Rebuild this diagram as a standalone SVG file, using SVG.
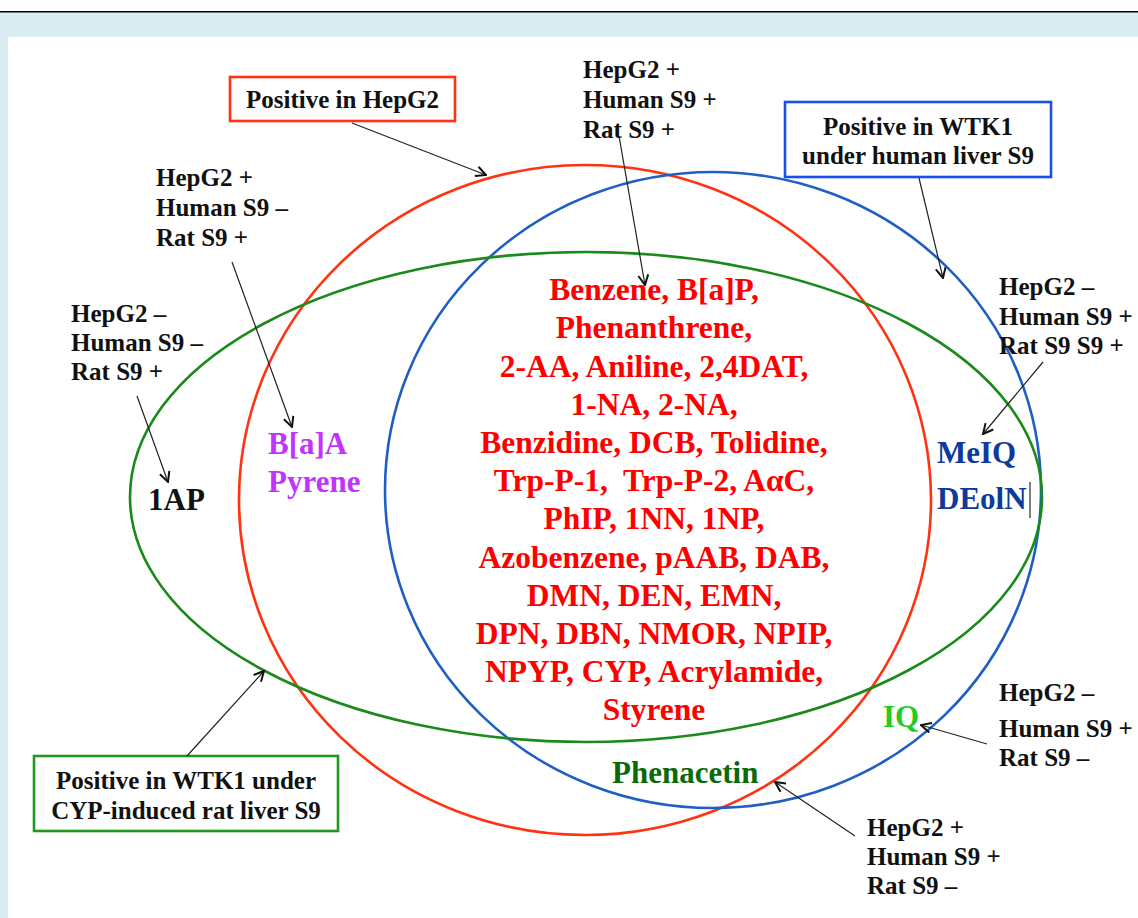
<svg xmlns="http://www.w3.org/2000/svg" width="1138" height="918" viewBox="0 0 1138 918">
<style>
text{font-family:"Liberation Serif","Times New Roman",serif;font-weight:bold}
.lbl{font-size:25px;fill:#111}
.mid{font-size:31.5px;fill:#ff0000;text-anchor:middle}
.big{font-size:31px}
.conn line{stroke:#222;stroke-width:1.2;marker-end:url(#ah)}
.ell{fill:none;stroke-width:2.6}
.box{fill:#fff;stroke-width:2.6}
.bt{font-size:25px;fill:#111;text-anchor:middle}
</style>
<defs>
<marker id="ah" viewBox="0 0 12 12" refX="11" refY="6" markerWidth="12" markerHeight="12" markerUnits="userSpaceOnUse" orient="auto">
<path d="M1,1 L11,6 L1,11" fill="none" stroke="#111" stroke-width="2"/>
</marker>
</defs>
<rect x="0" y="0" width="1138" height="918" fill="#d8ecf2"/>
<rect x="0" y="0" width="1138" height="11" fill="#fff"/>
<rect x="0" y="11" width="1138" height="1.5" fill="#000"/>
<rect x="8" y="37" width="1130" height="881" fill="#fff"/>

<g id="ellipses">
<ellipse id="red-set" class="ell" cx="585" cy="500" rx="346" ry="335" stroke="#ff3311"/>
<ellipse id="blue-set" class="ell" cx="713" cy="490" rx="328" ry="318" stroke="#1f5fc4"/>
<ellipse id="green-set" class="ell" cx="586" cy="497" rx="456" ry="245" stroke="#1a8a1a"/>
</g>

<g id="box-hepg2">
<rect class="box" x="230" y="77" width="225" height="44" stroke="#ff3311"/>
<text class="bt" x="342.5" y="108">Positive in HepG2</text>
</g>
<g id="box-wtk1-human">
<rect class="box" x="785" y="102" width="266" height="75" stroke="#1a4fee"/>
<text class="bt" x="918" y="135">Positive in WTK1</text>
<text class="bt" x="918" y="164">under human liver S9</text>
</g>
<g id="box-wtk1-rat">
<rect class="box" x="34" y="756" width="304" height="75" stroke="#1f9a1f"/>
<text class="bt" x="186" y="789">Positive in WTK1 under</text>
<text class="bt" x="186" y="819">CYP-induced rat liver S9</text>
</g>

<g id="label-top">
<text class="lbl" x="583" y="78">HepG2 +</text>
<text class="lbl" x="583" y="108">Human S9 +</text>
<text class="lbl" x="583" y="138">Rat S9 +</text>
</g>
<g id="label-topleft">
<text class="lbl" x="156" y="186">HepG2 +</text>
<text class="lbl" x="156" y="216">Human S9 –</text>
<text class="lbl" x="156" y="246">Rat S9 +</text>
</g>
<g id="label-left">
<text class="lbl" x="71" y="322">HepG2 –</text>
<text class="lbl" x="71" y="351">Human S9 –</text>
<text class="lbl" x="71" y="380">Rat S9 +</text>
</g>
<g id="label-right">
<text class="lbl" x="999" y="295">HepG2 –</text>
<text class="lbl" x="999" y="325">Human S9 +</text>
<text class="lbl" x="999" y="354">Rat S9 S9 +</text>
</g>
<g id="label-rightlow">
<text class="lbl" x="999" y="701">HepG2 –</text>
<text class="lbl" x="999" y="737">Human S9 +</text>
<text class="lbl" x="999" y="766">Rat S9 –</text>
</g>
<g id="label-bottom">
<text class="lbl" x="867" y="836">HepG2 +</text>
<text class="lbl" x="867" y="865">Human S9 +</text>
<text class="lbl" x="867" y="894">Rat S9 –</text>
</g>

<g id="center-list">
<text class="mid" x="654" y="300">Benzene, B[a]P,</text>
<text class="mid" x="654" y="338.3">Phenanthrene,</text>
<text class="mid" x="654" y="376.5">2-AA, Aniline, 2,4DAT,</text>
<text class="mid" x="654" y="414.7">1-NA, 2-NA,</text>
<text class="mid" x="654" y="453">Benzidine, DCB, Tolidine,</text>
<text class="mid" x="654" y="491.2" xml:space="preserve">Trp-P-1,  Trp-P-2, AαC,</text>
<text class="mid" x="654" y="529.4">PhIP, 1NN, 1NP,</text>
<text class="mid" x="654" y="567.6">Azobenzene, pAAB, DAB,</text>
<text class="mid" x="654" y="605.8">DMN, DEN, EMN,</text>
<text class="mid" x="654" y="644">DPN, DBN, NMOR, NPIP,</text>
<text class="mid" x="654" y="682.2">NPYP, CYP, Acrylamide,</text>
<text class="mid" x="654" y="720.4">Styrene</text>
</g>

<g id="item-1ap"><text class="big" x="148" y="510" fill="#111">1AP</text></g>
<g id="item-baa"><text class="big" x="268" y="454" fill="#c233ff">B[a]A</text><text class="big" x="268" y="492" fill="#c233ff">Pyrene</text></g>
<g id="item-meiq"><text class="big" x="937" y="463" fill="#0d3a9c">MeIQ</text><text class="big" x="937" y="509" fill="#0d3a9c">DEolN</text><line x1="1030" y1="482" x2="1030" y2="518" stroke="#555" stroke-width="1.5"/></g>
<g id="item-iq"><text class="big" x="883" y="727" fill="#22cc22">IQ</text></g>
<g id="item-phenacetin"><text class="big" x="612" y="783" fill="#0a6a0a">Phenacetin</text></g>

<g id="connectors" class="conn">
<line x1="352" y1="123" x2="486" y2="175"/>
<line x1="619" y1="136" x2="645" y2="285"/>
<line x1="919" y1="178" x2="943" y2="278"/>
<line x1="232" y1="262" x2="292" y2="427"/>
<line x1="137" y1="396" x2="168" y2="482"/>
<line x1="1043" y1="362" x2="983" y2="434"/>
<line x1="987" y1="744" x2="921" y2="725"/>
<line x1="855" y1="836" x2="775" y2="782"/>
<line x1="187" y1="756" x2="264" y2="671"/>
</g>
</svg>
